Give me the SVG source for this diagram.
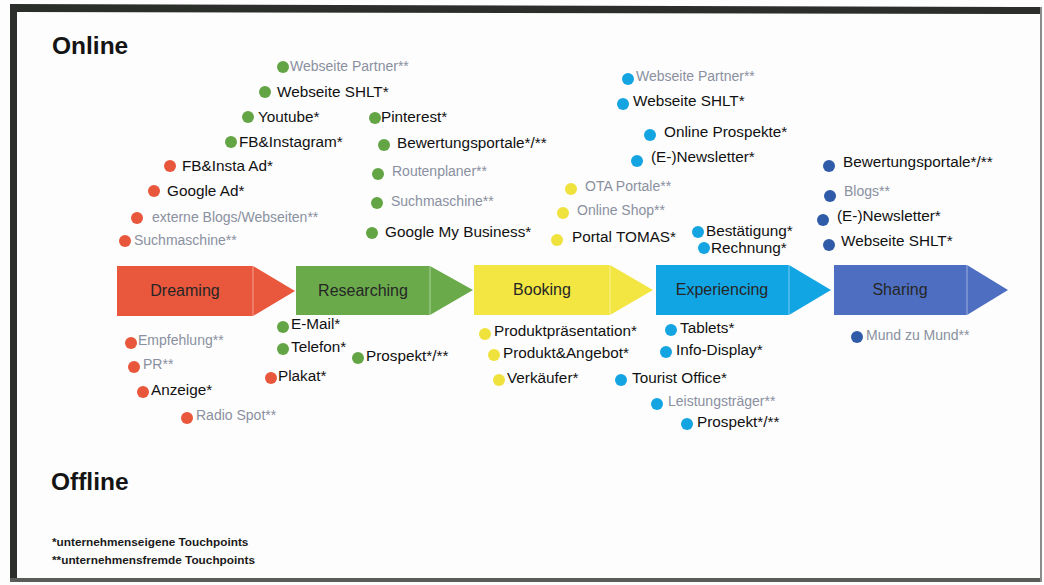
<svg xmlns="http://www.w3.org/2000/svg" width="1044" height="585" viewBox="0 0 1044 585">
<style>
text{font-family:"Liberation Sans",Arial,sans-serif}
.k{font-size:15.3px;fill:#111111}
.g{font-size:14px;fill:#8a90a0}
.h{font-size:24.5px;font-weight:bold;fill:#141414}
.f{font-size:11.8px;font-weight:bold;fill:#1a1a1a}
.s{font-size:16px;fill:#262626;text-anchor:middle}
.r{fill:#e8563b}.gr{fill:#63a545}.y{fill:#f0e23c}.c{fill:#15a4e2}.b{fill:#2f5ba8}
.ar{fill:#e9573d}.ag{fill:#6aaa4b}.ay{fill:#f3e642}.ac{fill:#12a5e4}.ab{fill:#4e6fc1}
.sep{stroke:#ffffff;stroke-opacity:0.45;stroke-width:1}
</style>
<rect width="1044" height="585" fill="#fdfdfd"/>
<g id="frame">
<polygon points="10,4 1041,7 1041,14 17,12" fill="#2b2e2b"/>
<rect x="10" y="4" width="7" height="578" fill="#2b2e2b"/>
<rect x="10" y="578" width="1032" height="4" fill="#5a5c5a"/>
<rect x="1040" y="7" width="2" height="575" fill="#8a8c8a"/>
</g>
<text class="h" x="52" y="54">Online</text>
<text class="h" x="51" y="490">Offline</text>
<text class="f" x="52" y="546">*unternehmenseigene Touchpoints</text>
<text class="f" x="52" y="564">**unternehmensfremde Touchpoints</text>

<g id="stages">
<g id="stage-dreaming"><polygon class="ar" points="117,266 253,266 295,291 253,316 117,316"/><line class="sep" x1="253" y1="266" x2="253" y2="316"/><text class="s" x="185" y="296">Dreaming</text></g>
<g id="stage-researching"><polygon class="ag" points="296,266 430,266 473,290 430,315 296,315"/><line class="sep" x1="430" y1="266" x2="430" y2="315"/><text class="s" x="363" y="296">Researching</text></g>
<g id="stage-booking"><polygon class="ay" points="474,265 610,265 653,290 610,315 474,315"/><line class="sep" x1="610" y1="265" x2="610" y2="315"/><text class="s" x="542" y="295">Booking</text></g>
<g id="stage-experiencing"><polygon class="ac" points="656,265 789,265 831,290 789,315 656,315"/><line class="sep" x1="789" y1="265" x2="789" y2="315"/><text class="s" x="722" y="295">Experiencing</text></g>
<g id="stage-sharing"><polygon class="ab" points="834,265 967,265 1008,290 967,315 834,315"/><line class="sep" x1="967" y1="265" x2="967" y2="315"/><text class="s" x="900" y="295">Sharing</text></g>
</g>

<g id="connectors"></g>

<!-- Dreaming online -->
<g id="d-fbad"><circle class="r" cx="170" cy="166" r="6"/><text class="k" x="182" y="171">FB&amp;Insta Ad*</text></g>
<g id="d-googlead"><circle class="r" cx="154" cy="191" r="6"/><text class="k" x="167" y="196">Google Ad*</text></g>
<g id="d-blogs"><circle class="r" cx="137" cy="218" r="6"/><text class="g" x="152" y="222">externe Blogs/Webseiten**</text></g>
<g id="d-such"><circle class="r" cx="125" cy="241" r="6"/><text class="g" x="134" y="245">Suchmaschine**</text></g>
<!-- Researching online -->
<g id="r-partner"><circle class="gr" cx="283" cy="67" r="6"/><text class="g" x="290" y="71">Webseite Partner**</text></g>
<g id="r-shlt"><circle class="gr" cx="265" cy="92" r="6"/><text class="k" x="277" y="97">Webseite SHLT*</text></g>
<g id="r-youtube"><circle class="gr" cx="248" cy="117" r="6"/><text class="k" x="258" y="122">Youtube*</text></g>
<g id="r-fbinsta"><circle class="gr" cx="231" cy="142" r="6"/><text class="k" x="239" y="147">FB&amp;Instagram*</text></g>
<g id="r-pinterest"><circle class="gr" cx="375" cy="118" r="6"/><text class="k" x="381" y="122">Pinterest*</text></g>
<g id="r-bewertung"><circle class="gr" cx="384" cy="145" r="6"/><text class="k" x="397" y="148">Bewertungsportale*/**</text></g>
<g id="r-routen"><circle class="gr" cx="378" cy="174" r="6"/><text class="g" x="392" y="176">Routenplaner**</text></g>
<g id="r-such"><circle class="gr" cx="377" cy="203" r="6"/><text class="g" x="391" y="206">Suchmaschine**</text></g>
<g id="r-gmb"><circle class="gr" cx="372" cy="233" r="6"/><text class="k" x="385" y="237">Google My Business*</text></g>
<!-- Booking online -->
<g id="b-ota"><circle class="y" cx="571" cy="189" r="6"/><text class="g" x="585" y="191">OTA Portale**</text></g>
<g id="b-shop"><circle class="y" cx="563" cy="213" r="6"/><text class="g" x="577" y="215">Online Shop**</text></g>
<g id="b-tomas"><circle class="y" cx="557" cy="240" r="6"/><text class="k" x="572" y="242">Portal TOMAS*</text></g>
<!-- Experiencing online -->
<g id="e-partner"><circle class="c" cx="628" cy="79" r="6"/><text class="g" x="636" y="81">Webseite Partner**</text></g>
<g id="e-shlt"><circle class="c" cx="623" cy="104" r="6"/><text class="k" x="633" y="106">Webseite SHLT*</text></g>
<g id="e-prospekte"><circle class="c" cx="650" cy="135" r="6"/><text class="k" x="664" y="137">Online Prospekte*</text></g>
<g id="e-newsletter"><circle class="c" cx="637" cy="161" r="6"/><text class="k" x="651" y="162">(E-)Newsletter*</text></g>
<g id="e-bestaetigung"><circle class="c" cx="698" cy="232" r="6"/><text class="k" x="706" y="236">Bestätigung*</text></g>
<g id="e-rechnung"><circle class="c" cx="704" cy="248" r="6"/><text class="k" x="711" y="253">Rechnung*</text></g>
<!-- Sharing online -->
<g id="s-bewertung"><circle class="b" cx="829" cy="166" r="6"/><text class="k" x="843" y="167">Bewertungsportale*/**</text></g>
<g id="s-blogs"><circle class="b" cx="830" cy="196" r="6"/><text class="g" x="844" y="196">Blogs**</text></g>
<g id="s-newsletter"><circle class="b" cx="823" cy="220" r="6"/><text class="k" x="837" y="221">(E-)Newsletter*</text></g>
<g id="s-shlt"><circle class="b" cx="829" cy="245" r="6"/><text class="k" x="841" y="246">Webseite SHLT*</text></g>

<!-- Offline -->
<g id="d-empfehlung"><circle class="r" cx="131" cy="343" r="6"/><text class="g" x="138" y="345">Empfehlung**</text></g>
<g id="d-pr"><circle class="r" cx="134" cy="367" r="6"/><text class="g" x="143" y="369">PR**</text></g>
<g id="d-anzeige"><circle class="r" cx="143" cy="392" r="6"/><text class="k" x="151" y="395">Anzeige*</text></g>
<g id="d-radio"><circle class="r" cx="187" cy="418" r="6"/><text class="g" x="196" y="420">Radio Spot**</text></g>
<g id="d-plakat"><circle class="r" cx="271" cy="378" r="6"/><text class="k" x="278" y="381">Plakat*</text></g>
<g id="r-email"><circle class="gr" cx="283" cy="327" r="6"/><text class="k" x="291" y="329">E-Mail*</text></g>
<g id="r-telefon"><circle class="gr" cx="283" cy="349" r="6"/><text class="k" x="291" y="352">Telefon*</text></g>
<g id="r-prospekt"><circle class="gr" cx="358" cy="358" r="6"/><text class="k" x="366" y="361">Prospekt*/**</text></g>
<g id="b-praes"><circle class="y" cx="485" cy="334" r="6"/><text class="k" x="494" y="336">Produktpräsentation*</text></g>
<g id="b-angebot"><circle class="y" cx="494" cy="355" r="6"/><text class="k" x="503" y="358">Produkt&amp;Angebot*</text></g>
<g id="b-verkaeufer"><circle class="y" cx="499" cy="380" r="6"/><text class="k" x="507" y="383">Verkäufer*</text></g>
<g id="e-tablets"><circle class="c" cx="671" cy="330" r="6"/><text class="k" x="680" y="333">Tablets*</text></g>
<g id="e-info"><circle class="c" cx="666" cy="352" r="6"/><text class="k" x="676" y="355">Info-Display*</text></g>
<g id="e-tourist"><circle class="c" cx="621" cy="380" r="6"/><text class="k" x="632" y="383">Tourist Office*</text></g>
<g id="e-leistung"><circle class="c" cx="657" cy="404" r="6"/><text class="g" x="668" y="406">Leistungsträger**</text></g>
<g id="e-prospekt"><circle class="c" cx="687" cy="424" r="6"/><text class="k" x="697" y="427">Prospekt*/**</text></g>
<g id="s-mund"><circle class="b" cx="857" cy="337" r="6"/><text class="g" x="866" y="340">Mund zu Mund**</text></g>
</svg>
